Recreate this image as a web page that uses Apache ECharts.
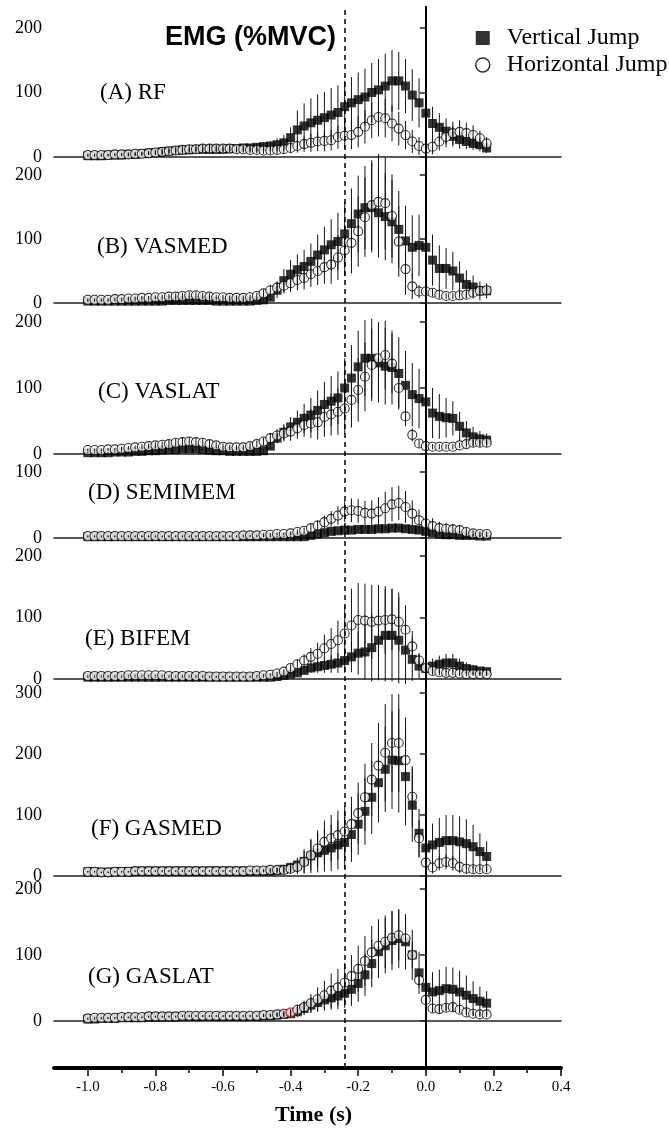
<!DOCTYPE html>
<html>
<head>
<meta charset="utf-8">
<title>EMG (%MVC)</title>
<script src="https://cdn.jsdelivr.net/npm/echarts@6/dist/echarts.min.js"></script>
<style>
  html, body { margin: 0; padding: 0; background: #fff; }
  #container { width: 669px; height: 1131px; }
</style>
</head>
<body>
<div id="container"></div>
<script>
// time base (s), one sample every 20 ms
var time = [
  -1.00,-0.98,-0.96,-0.94,-0.92,-0.90,-0.88,-0.86,-0.84,-0.82,
  -0.80,-0.78,-0.76,-0.74,-0.72,-0.70,-0.68,-0.66,-0.64,-0.62,
  -0.60,-0.58,-0.56,-0.54,-0.52,-0.50,-0.48,-0.46,-0.44,-0.42,
  -0.40,-0.38,-0.36,-0.34,-0.32,-0.30,-0.28,-0.26,-0.24,-0.22,
  -0.20,-0.18,-0.16,-0.14,-0.12,-0.10,-0.08,-0.06,-0.04,-0.02,
   0.00, 0.02, 0.04, 0.06, 0.08, 0.10, 0.12, 0.14, 0.16, 0.18
];
var majorTicks = [-1.0, -0.8, -0.6, -0.4, -0.2, 0.0, 0.2, 0.4];
var minorTicks = [-0.9, -0.7, -0.5, -0.3, -0.1, 0.1, 0.3];
var dashedMark = -0.24;
var solidMark = 0;

// (A) RF
var rfVert   = [2,2,2,3,3,3,4,4,5,6, 7,8,9,10,11,11,12,12,12,12, 12,13,13,14,14,15,16,17,19,22, 30,42,48,53,57,61,65,69,78,84, 89,93,100,104,110,118,118,110,96,84, 68,52,46,40,32,27,24,21,19,14];
var rfVertSd = [1,1,1,1,1,1,2,2,2,2, 2,3,3,3,3,3,3,3,3,3, 3,3,4,4,5,6,7,8,10,12, 16,30,35,38,40,40,42,42,40,40, 42,44,46,48,50,48,45,42,40,38, 32,26,22,20,16,14,12,10,10,8];
var rfHoriz   = [3,3,3,3,4,4,4,5,5,6, 7,8,9,10,11,12,12,13,13,13, 13,13,12,12,11,11,10,10,11,12, 14,17,20,22,24,25,26,31,33,34, 39,47,57,62,60,52,44,34,24,17, 13,16,24,31,37,39,37,34,29,21];
var rfHorizSd = [2,2,2,2,2,2,3,3,3,3, 4,5,6,6,7,7,7,7,7,6, 6,6,5,5,5,5,5,6,6,7, 8,10,12,14,15,16,16,18,20,22, 24,26,28,30,30,28,26,22,18,14, 12,12,14,16,18,18,16,15,12,10];

// (B) VASMED
var vmVert   = [3,3,3,3,3,3,3,3,3,3, 3,3,4,4,4,4,4,4,4,3, 3,3,3,3,3,4,5,9,20,35, 45,52,57,65,75,83,91,96,108,124, 139,149,149,141,135,127,115,97,87,90, 87,67,54,54,50,39,29,25,19,19];
var vmVertSd = [1,1,1,1,1,1,1,1,1,1, 1,1,1,1,1,1,1,1,1,1, 2,2,2,2,3,3,4,6,12,18, 22,24,26,28,32,36,40,45,50,55, 60,65,70,70,68,65,60,55,50,48, 45,40,36,32,30,26,22,18,15,12];
var vmHoriz   = [5,5,5,5,6,6,7,7,8,8, 9,9,10,10,11,12,12,11,10,9, 9,8,8,8,9,11,15,20,24,27, 31,36,39,45,50,56,60,71,82,94, 112,134,153,158,156,136,96,53,26,18, 18,16,13,11,11,12,13,16,19,20];
var vmHorizSd = [2,2,2,2,2,2,3,3,3,3, 3,4,4,5,5,6,6,5,5,4, 4,4,4,4,4,5,6,8,10,12, 14,16,18,20,22,26,30,35,40,48, 55,62,70,75,72,65,55,40,20,10, 8,6,6,5,5,5,5,6,6,6];

// (C) VASLAT
var vlVert   = [2,2,2,2,3,3,3,4,4,5, 5,6,7,7,8,8,8,7,6,5, 5,4,4,4,4,4,5,12,24,33, 41,48,54,59,66,75,80,85,100,115, 132,145,145,138,133,131,122,104,90,84, 79,62,57,55,54,42,32,26,23,21];
var vlVertSd = [1,1,1,1,1,1,1,1,1,1, 1,2,2,2,2,2,2,2,2,1, 1,1,1,1,1,1,3,5,8,12, 15,18,22,26,30,34,38,40,45,50, 55,58,60,60,58,56,55,52,48,45, 42,38,34,30,26,22,18,15,12,10];
var vlHoriz   = [6,6,6,7,7,8,9,10,11,12, 13,14,15,17,18,19,18,17,15,13, 11,10,10,10,12,15,19,24,28,31, 34,39,44,46,48,56,60,64,69,82, 97,117,135,145,150,137,100,57,29,16, 12,11,11,11,11,13,15,17,17,17];
var vlHorizSd = [2,2,2,2,2,3,3,3,4,4, 5,5,6,6,7,7,7,6,6,5, 5,4,4,4,5,5,6,8,10,12, 14,16,18,22,26,30,32,35,38,42, 48,52,55,55,52,45,30,15,10,6, 5,4,4,4,4,4,5,5,5,5];

// (D) SEMIMEM
var smVert   = [2,2,2,2,2,2,2,2,2,2, 2,2,2,2,2,2,2,2,2,2, 2,2,2,2,2,2,2,2,2,2, 2,2,2,4,6,8,10,11,12,12, 13,13,13,14,14,15,15,14,13,12, 10,8,6,5,5,4,4,4,3,3];
var smVertSd = [1,1,1,1,1,1,1,1,1,1, 1,1,1,1,1,1,1,1,1,1, 1,1,1,1,1,1,1,1,1,1, 1,1,1,2,2,3,3,3,4,4, 4,4,4,4,4,5,5,5,5,5, 4,4,3,3,3,2,2,2,2,2];
var smHoriz   = [3,3,3,3,3,3,3,3,3,3, 3,3,3,3,3,3,3,3,3,3, 3,3,3,4,4,4,5,5,6,6, 7,9,11,15,19,24,29,34,40,42, 41,38,37,40,45,51,53,47,37,27, 22,18,15,14,13,12,9,7,6,6];
var smHorizSd = [1,1,1,1,1,1,1,1,1,1, 1,1,1,1,1,1,1,1,1,1, 1,1,1,1,1,1,2,2,2,2, 3,4,5,6,8,10,12,14,16,18, 18,18,20,22,25,26,26,24,20,16, 14,12,10,9,8,8,6,5,4,4];

// (E) BIFEM
var bfVert   = [3,3,3,3,3,3,3,3,3,3, 3,3,3,3,3,3,3,3,3,3, 3,3,3,3,3,3,3,3,4,6, 8,10,14,18,20,22,24,26,30,36, 42,44,51,63,71,71,63,47,32,21, 17,21,24,26,26,21,17,15,13,12];
var bfVertSd = [1,1,1,1,1,1,1,1,1,1, 1,1,1,1,1,1,1,1,1,1, 1,1,1,1,1,1,1,1,2,2, 4,5,6,8,10,12,14,16,20,25, 35,45,55,65,75,75,70,55,35,20, 10,12,14,15,15,12,10,8,6,5];
var bfHoriz   = [5,5,5,5,5,5,6,6,6,6, 6,6,5,5,5,5,5,5,4,4, 4,4,4,4,4,5,6,7,9,12, 18,24,30,36,41,50,57,63,74,87, 96,95,93,95,96,97,93,80,53,30, 18,13,11,10,10,9,8,8,8,8];
var bfHorizSd = [1,1,1,1,1,1,1,1,1,1, 1,1,1,1,1,1,1,1,1,1, 1,1,1,1,1,1,2,2,3,4, 6,8,10,14,18,22,26,32,45,60, 60,60,60,58,55,50,48,40,25,12, 8,6,5,5,4,4,4,3,3,3];

// (F) GASMED
var gmVert   = [7,7,6,6,7,7,7,8,8,8, 8,8,8,8,8,8,8,8,8,8, 8,8,8,8,8,8,8,8,9,11, 14,18,24,33,38,42,46,51,55,68, 85,106,129,153,175,190,189,163,116,70, 46,51,55,58,58,56,53,48,40,32];
var gmVertSd = [1,1,1,1,1,1,1,1,1,1, 1,1,1,1,1,1,1,1,1,1, 1,1,1,1,1,2,2,3,4,6, 8,12,20,28,32,35,38,40,42,45, 50,55,60,65,70,80,85,80,60,40, 30,35,40,42,42,42,40,36,30,25];
var gmHoriz   = [7,7,6,6,7,7,7,8,8,8, 8,8,8,8,8,8,8,8,8,8, 8,8,8,8,9,9,9,10,10,10, 12,15,23,34,45,56,62,67,73,85, 103,129,158,181,202,218,218,190,130,62, 22,14,21,23,21,15,12,11,11,11];
var gmHorizSd = [1,1,1,1,1,1,1,1,1,1, 1,1,1,1,1,1,1,1,1,1, 1,1,1,1,1,2,2,3,4,6, 8,12,18,25,30,35,38,40,42,45, 50,55,60,70,80,80,80,70,50,30, 15,10,12,12,12,10,8,6,5,5];

// (G) GASLAT
var glVert   = [3,3,4,4,4,5,5,5,5,6, 6,6,6,6,7,7,7,7,7,7, 7,7,7,7,7,7,8,8,9,10, 11,14,19,24,28,32,35,38,42,48, 57,70,87,105,114,122,125,120,100,73, 51,44,46,49,48,44,39,34,30,27];
var glVertSd = [1,1,1,1,1,1,1,1,1,1, 1,1,1,1,1,1,1,1,1,1, 1,1,1,1,1,1,2,2,3,4, 6,8,10,12,14,16,18,20,22,25, 28,32,36,40,42,45,45,42,38,32, 28,30,32,33,33,32,30,26,22,18];
var glHoriz   = [4,5,5,5,5,6,6,6,6,7, 7,7,7,7,8,8,8,8,8,8, 8,8,8,8,8,8,9,9,10,11, 13,17,21,27,33,39,46,51,58,68, 79,91,104,114,120,126,130,125,100,62, 32,19,18,20,21,17,13,11,10,10];
var glHorizSd = [1,1,1,1,1,1,1,1,1,1, 1,1,1,1,1,1,1,1,1,1, 1,1,1,1,1,1,2,2,3,4, 5,8,10,14,18,22,26,28,30,32, 35,38,40,40,40,40,38,32,20,10, 8,6,6,6,6,5,5,4,4,4];

var panels = [
  { name: '(A) RF',      yMax: 200, vert: rfVert, vertSd: rfVertSd, horiz: rfHoriz, horizSd: rfHorizSd },
  { name: '(B) VASMED',  yMax: 200, vert: vmVert, vertSd: vmVertSd, horiz: vmHoriz, horizSd: vmHorizSd },
  { name: '(C) VASLAT',  yMax: 200, vert: vlVert, vertSd: vlVertSd, horiz: vlHoriz, horizSd: vlHorizSd },
  { name: '(D) SEMIMEM', yMax: 100, vert: smVert, vertSd: smVertSd, horiz: smHoriz, horizSd: smHorizSd },
  { name: '(E) BIFEM',   yMax: 200, vert: bfVert, vertSd: bfVertSd, horiz: bfHoriz, horizSd: bfHorizSd },
  { name: '(F) GASMED',  yMax: 300, vert: gmVert, vertSd: gmVertSd, horiz: gmHoriz, horizSd: gmHorizSd },
  { name: '(G) GASLAT',  yMax: 200, vert: glVert, vertSd: glVertSd, horiz: glHoriz, horizSd: glHorizSd }
];

// pixel layout of each panel (grid top/height, label position)
var layout = [
  { top: 28,  height: 129, labelLeft: 100, labelTop: 81 },
  { top: 175, height: 128, labelLeft: 97,  labelTop: 235 },
  { top: 322, height: 132, labelLeft: 98,  labelTop: 380 },
  { top: 472, height: 66,  labelLeft: 88,  labelTop: 481 },
  { top: 556, height: 123, labelLeft: 85,  labelTop: 627 },
  { top: 693, height: 183, labelLeft: 91,  labelTop: 817 },
  { top: 889, height: 132, labelLeft: 88,  labelTop: 965, redIndex: 30 }
];

var serif = '"Liberation Serif", "Times New Roman", serif';
var gridLeft = 54, gridRight = 108;

function errorBar(params, api) {
  var hi = api.coord([api.value(0), api.value(2)]);
  var lo = api.coord([api.value(0), api.value(1)]);
  return {
    type: 'line',
    shape: { x1: hi[0], y1: hi[1], x2: lo[0], y2: lo[1] },
    style: { stroke: '#111', lineWidth: 1 }
  };
}

var grids = [], xAxes = [], yAxes = [], series = [];
var titles = [{
  text: 'EMG (%MVC)', left: 165, top: 24, padding: 0,
  textStyle: { fontFamily: '"Liberation Sans", Arial, sans-serif', fontSize: 27, fontWeight: 'bold', color: '#000' }
}];

panels.forEach(function (p, k) {
  var L = layout[k];
  grids.push({ left: gridLeft, right: gridRight, top: L.top, height: L.height });
  xAxes.push({
    type: 'value', gridIndex: k, min: -1.1, max: 0.4,
    axisLine: { show: true, lineStyle: { color: '#222', width: 1.5 } },
    axisTick: { show: false }, axisLabel: { show: false }, splitLine: { show: false }
  });
  yAxes.push({
    type: 'value', gridIndex: k, min: 0, max: p.yMax, interval: 100,
    axisLine: { show: true, lineStyle: { color: '#222', width: 1.5 } },
    axisTick: { show: true, length: 6, lineStyle: { color: '#222', width: 1.5 } },
    axisLabel: { fontFamily: serif, fontSize: 18, color: '#000', margin: 12 },
    splitLine: { show: false }
  });
  titles.push({
    text: p.name, left: L.labelLeft, top: L.labelTop, padding: 0,
    textStyle: { fontFamily: serif, fontSize: 23, fontWeight: 'normal', color: '#000' }
  });

  series.push({
    name: 'Vertical Jump', type: 'scatter', xAxisIndex: k, yAxisIndex: k,
    symbol: 'rect', symbolSize: 9, itemStyle: { color: '#000' }, z: 2, silent: true,
    data: time.map(function (t, i) { return [t, p.vert[i]]; })
  });
  series.push({
    name: 'Horizontal Jump', type: 'scatter', xAxisIndex: k, yAxisIndex: k,
    symbol: 'circle', symbolSize: 9,
    itemStyle: { color: '#fff', borderColor: '#000', borderWidth: 1.1 }, z: 3, silent: true,
    data: time.map(function (t, i) {
      if (L.redIndex === i) {
        return { value: [t, p.horiz[i]], itemStyle: { borderColor: '#e01010', borderWidth: 1.5 } };
      }
      return [t, p.horiz[i]];
    })
  });
  var bars = [];
  time.forEach(function (t, i) {
    bars.push([t, p.vert[i] - p.vertSd[i], p.vert[i] + p.vertSd[i]]);
    bars.push([t, p.horiz[i] - p.horizSd[i], p.horiz[i] + p.horizSd[i]]);
  });
  series.push({
    type: 'custom', xAxisIndex: k, yAxisIndex: k, renderItem: errorBar,
    encode: { x: 0, y: [1, 2] }, data: bars, clip: false, z: 4, silent: true
  });
});

// overlay grid: shared time axis + event lines across all panels
var ov = panels.length;
grids.push({ left: gridLeft, right: gridRight, top: 6, bottom: 62 });
xAxes.push({
  type: 'value', gridIndex: ov, min: -1.1, max: 0.4, position: 'bottom',
  axisLine: { show: true, lineStyle: { color: '#000', width: 4 } },
  axisTick: { show: true, length: 8, customValues: majorTicks, lineStyle: { color: '#000', width: 1.5 } },
  axisLabel: {
    customValues: majorTicks, fontFamily: serif, fontSize: 15, color: '#000', margin: 12,
    formatter: function (v) { return v.toFixed(1); }
  },
  splitLine: { show: false },
  name: 'Time (s)', nameLocation: 'middle', nameGap: 36,
  nameTextStyle: { fontFamily: serif, fontSize: 22, fontWeight: 'bold', color: '#000', padding: [0, 0, 0, 12] }
});
xAxes.push({
  type: 'value', gridIndex: ov, min: -1.1, max: 0.4, position: 'bottom',
  axisLine: { show: false },
  axisTick: { show: true, length: 5, customValues: minorTicks, lineStyle: { color: '#000', width: 1.5 } },
  axisLabel: { show: false }, splitLine: { show: false }
});
yAxes.push({ type: 'value', gridIndex: ov, min: 0, max: 1, show: false });
series.push({
  type: 'line', xAxisIndex: ov, yAxisIndex: ov, data: [], silent: true, z: 5,
  markLine: {
    silent: true, symbol: ['none', 'none'], label: { show: false },
    data: [
      { xAxis: dashedMark, lineStyle: { color: '#000', width: 1.5, type: [5, 4] } },
      { xAxis: solidMark, lineStyle: { color: '#000', width: 2, type: 'solid' } }
    ]
  }
});

var myChart = echarts.init(document.getElementById('container'));
var option = {
  animation: false,
  backgroundColor: '#fff',
  title: titles,
  legend: {
    orient: 'vertical', left: 475, top: 26, padding: 0, itemWidth: 14, itemHeight: 14, itemGap: 3,
    selectedMode: false,
    textStyle: { fontFamily: serif, fontSize: 24, lineHeight: 24, color: '#000', padding: [0, 0, 0, 12] },
    data: [
      { name: 'Vertical Jump', icon: 'rect' },
      { name: 'Horizontal Jump', icon: 'circle', itemStyle: { color: '#fff', borderColor: '#000', borderWidth: 1.5 } }
    ]
  },
  grid: grids,
  xAxis: xAxes,
  yAxis: yAxes,
  series: series
};
myChart.setOption(option);
</script>
</body>
</html>
